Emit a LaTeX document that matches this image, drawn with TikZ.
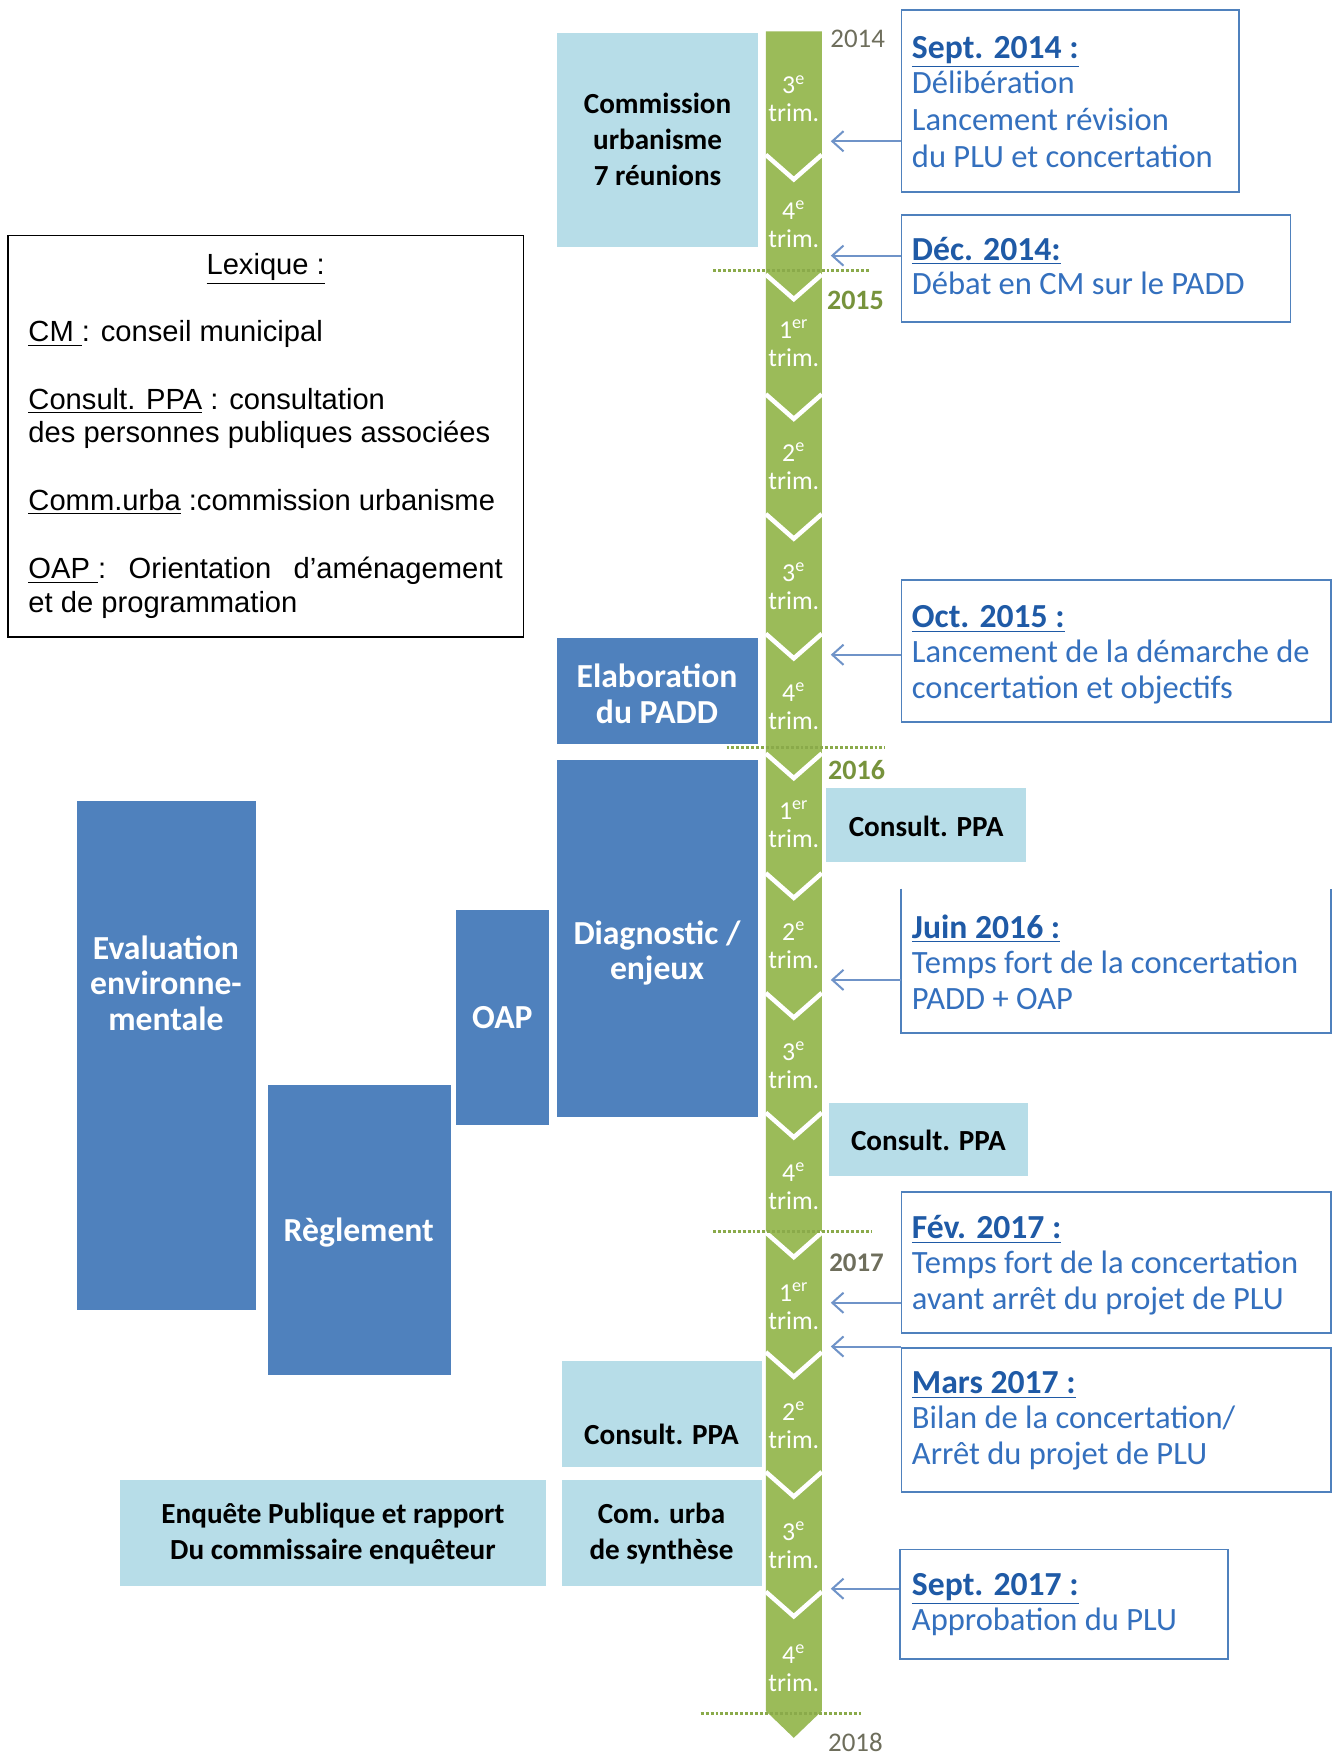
\documentclass[tikz,border=0pt]{standalone}
\usepackage{fontspec}
\setmainfont{Carlito}
\newfontfamily\arialf{Liberation Sans}
\usetikzlibrary{arrows.meta,fit}
\definecolor{tgreen}{HTML}{9BBB59}
\definecolor{dblue}{HTML}{4F81BD}
\definecolor{lblue}{HTML}{B7DDE8}
\definecolor{ctitle}{HTML}{1F5AA6}
\definecolor{cbody}{HTML}{3470BE}
\definecolor{arrcol}{HTML}{6F93C8}
\definecolor{colive}{HTML}{77933C}
\definecolor{cgrey}{HTML}{6E6E5C}
\definecolor{dotcol}{HTML}{8AAA4A}
\begin{document}
\begin{tikzpicture}[x=0.5pt,y=-0.5pt,
  lbbox/.style={fill=lblue, draw=none, inner sep=0pt},
  dbbox/.style={fill=dblue, draw=none, inner sep=0pt},
  evbox/.style={draw=dblue, line width=0.8pt, fill=white, inner sep=0pt},
  lbtext/.style={align=center, font=\fontsize{13}{16}\selectfont\bfseries, text=black, inner sep=0pt},
  dbtext/.style={align=center, font=\fontsize{15}{16}\selectfont\bfseries, text=white, inner sep=0pt},
  trimtext/.style={align=center, font=\fontsize{11.5}{12.5}\selectfont, text=white, inner sep=0pt},
  evtitle/.style={anchor=base west, inner sep=0pt, font=\fontsize{15}{16}\selectfont\bfseries, text=ctitle},
  evline/.style={anchor=base west, inner sep=0pt, font=\fontsize{14.5}{16}\selectfont, text=cbody},
  lex/.style={anchor=base west, inner sep=0pt, font=\arialf\fontsize{13}{15}\selectfont, text=black},
  yearlab/.style={inner sep=0pt, font=\fontsize{12.5}{14}\selectfont\bfseries},
  yeardots/.style={dotcol, line width=1.3pt, dash pattern=on 1.3pt off 0.9pt},
  arr/.style={arrcol, line width=0.9pt, -{Straight Barb[length=5pt,width=9pt]}},
]
\useasboundingbox[fill=white] (0,0) rectangle (1196,1568);

% ---------- Legend ----------
\node[draw=black, line width=0.8pt, fit={(7,210)(467,568)}, inner sep=0pt] (lexbox) {};
\node[lex, anchor=base] (lext) at (237,245) {\underline{Lexique :}};
\node[lex] (lcm) at (25,305) {\underline{CM\ }: conseil municipal};
\node[lex] (lppa) at (25,365) {\underline{Consult. PPA} : consultation};
\node[lex] (lppb) at (25,395) {des personnes publiques associées};
\node[lex] (lcom) at (25,455) {\underline{Comm.urba} :commission urbanisme};
\node[lex] (loap) at (25,516) {\makebox[211.5pt][s]{\underline{OAP\ }:\ Orientation d’aménagement}};
\node[lex] (loapb) at (25,546) {et de programmation};

% ---------- Timeline ----------
\fill[tgreen] (683,28) -- (733,28) -- (733,1526) -- (708,1550) -- (683,1526) -- cycle;
\foreach \k in {0,...,12}{
  \pgfmathsetmacro\s{138+106.8*\k}
  \draw[white, line width=2pt] (683,\s) -- (708,\s+22) -- (733,\s);
}
\foreach \y/\n/\e [count=\i] in {88/3/e,200/4/e,306/1/er,416/2/e,523/3/e,630/4/e,735/1/er,843/2/e,950/3/e,1058/4/e,1165/1/er,1271/2/e,1378/3/e,1488/4/e}{
  \node[trimtext] (q\i) at (708,\y) {\n\textsuperscript{\e}\\trim.};
}

% year separators
\draw[yeardots] (636,241) -- (776,241);
\draw[yeardots] (648,667) -- (789,667);
\draw[yeardots] (636,1098) -- (777,1098);
\draw[yeardots] (625,1528) -- (768,1528);
\node[yearlab, text=cgrey, font=\fontsize{12}{14}\selectfont] (y14) at (765,35) {2014};
\node[yearlab, text=colive] (y15) at (763,268) {2015};
\node[yearlab, text=colive] (y16) at (764,687) {2016};
\node[yearlab, text=cgrey, font=\fontsize{12}{14}\selectfont\bfseries] (y17) at (764,1126) {2017};
\node[yearlab, text=cgrey, font=\fontsize{12}{14}\selectfont] (y18) at (763,1554) {2018};

% ---------- Light blue boxes ----------
\node[lbbox, fit={(497,29)(676,220)}] (comm) {};
\node[lbtext] (commt) at (comm.center) {Commission\\urbanisme\\7 réunions};
\node[lbbox, fit={(737,703)(915,769)}] (ppa1) {};
\node[lbtext] (ppa1t) at (826,737) {Consult. PPA};
\node[lbbox, fit={(739,984)(917,1049)}] (ppa2) {};
\node[lbtext] (ppa2t) at (828,1017) {Consult. PPA};
\node[lbbox, fit={(501,1214)(680,1308)}] (ppa3) {};
\node[lbtext] (ppa3t) at (590,1279) {Consult. PPA};
\node[lbbox, fit={(501,1320)(680,1415)}] (synth) {};
\node[lbtext] (syntht) at (590,1368) {Com. urba\\de synthèse};
\node[lbbox, fit={(107,1320)(487,1415)}] (enq) {};
\node[lbtext] (enqt) at (297,1368) {Enquête Publique et rapport\\Du commissaire enquêteur};

% ---------- Dark blue boxes ----------
\node[dbbox, fit={(497,569)(676,664)}] (padd) {};
\node[dbtext] (paddt) at (586,619) {Elaboration\\du PADD};
\node[dbbox, fit={(497,678)(676,996)}] (diag) {};
\node[dbtext] (diagt) at (586,850) {Diagnostic /\\enjeux};
\node[dbbox, fit={(407,812)(490,1003)}] (oap) {};
\node[dbtext] (oapt) at (448,908) {OAP};
\node[dbbox, fit={(69,714)(228,1168)}] (evalenv) {};
\node[dbtext] (evalt) at (148,877) {Evaluation\\environne-\\mentale};
\node[dbbox, fit={(239,968)(402,1226)}] (regl) {};
\node[dbtext] (reglt) at (320,1099) {Règlement};

% ---------- Event boxes ----------
\node[evbox, fit={(804,9)(1105,171)}] (ev1) {};
\node[evtitle] (ev1t) at (813,52) {\underline{Sept. 2014 :}};
\node[evline] (ev1a) at (813,83) {Délibération};
\node[evline] (ev1b) at (813,116) {Lancement révision};
\node[evline] (ev1c) at (813,149) {du PLU et concertation};

\node[evbox, fit={(804,192)(1151,287)}] (ev2) {};
\node[evtitle] (ev2t) at (813,232) {\underline{Déc. 2014:}};
\node[evline] (ev2a) at (813,263) {Débat en CM sur le PADD};

\node[evbox, fit={(804,517)(1187,644)}] (ev3) {};
\node[evtitle] (ev3t) at (813,560) {\underline{Oct. 2015 :}};
\node[evline] (ev3a) at (813,591) {Lancement de la démarche de};
\node[evline] (ev3b) at (813,623) {concertation et objectifs};

\node[inner sep=0pt, fit={(804,793)(1187,921)}] (ev4) {};
\draw[dblue, line width=0.8pt] (ev4.north west) -- (ev4.south west) -- (ev4.south east) -- (ev4.north east);
\node[evtitle] (ev4t) at (813,837) {\underline{Juin 2016 :}};
\node[evline] (ev4a) at (813,868) {Temps fort de la concertation};
\node[evline] (ev4b) at (813,900) {PADD + OAP};

\node[evbox, fit={(804,1063)(1187,1189)}] (ev5) {};
\node[evtitle] (ev5t) at (813,1105) {\underline{Fév. 2017 :}};
\node[evline] (ev5a) at (813,1136) {Temps fort de la concertation};
\node[evline] (ev5b) at (813,1168) {avant arrêt du projet de PLU};

\node[evbox, fit={(804,1202)(1187,1331)}] (ev6) {};
\node[evtitle] (ev6t) at (813,1243) {\underline{Mars 2017 :}};
\node[evline] (ev6a) at (813,1274) {Bilan de la concertation/};
\node[evline] (ev6b) at (813,1306) {Arrêt du projet de PLU};

\node[evbox, fit={(803,1382)(1095,1480)}] (ev7) {};
\node[evtitle] (ev7t) at (813,1423) {\underline{Sept. 2017 :}};
\node[evline] (ev7a) at (813,1454) {Approbation du PLU};

% ---------- Arrows ----------
\coordinate (a1) at (741,126);
\coordinate (a2) at (741,228);
\coordinate (a3) at (741,584);
\coordinate (a4) at (741,874);
\coordinate (a5) at (741,1162);
\coordinate (a6) at (741,1201);
\coordinate (a7) at (741,1417);
\draw[arr] (ev1.west |- a1) -- (a1);
\draw[arr] (ev2.west |- a2) -- (a2);
\draw[arr] (ev3.west |- a3) -- (a3);
\draw[arr] (ev4.west |- a4) -- (a4);
\draw[arr] (ev5.west |- a5) -- (a5);
\draw[arr] (ev6.west |- a6) -- (a6);
\draw[arr] (ev7.west |- a7) -- (a7);
\end{tikzpicture}
\end{document}
